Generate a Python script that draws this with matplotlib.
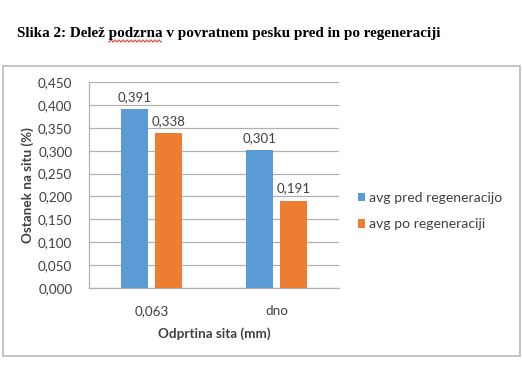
import matplotlib
matplotlib.use("Agg")
import matplotlib.pyplot as plt
import numpy as np
from matplotlib.patches import Rectangle

categories = ["0,063", "dno"]
series_names = ["avg pred regeneracijo", "avg po regeneraciji"]
pred = [0.391, 0.301]
po = [0.338, 0.191]
colors = ["#5B9BD5", "#ED7D31"]
yticks = [0.0, 0.05, 0.10, 0.15, 0.20, 0.25, 0.30, 0.35, 0.40, 0.45]

title = "Slika 2: Delež podzrna v povratnem pesku pred in po regeneraciji"
ylabel = "Ostanek na situ (%)"
xlabel = "Odprtina sita (mm)"

W, H = 522, 392
fig = plt.figure(figsize=(W / 100, H / 100), dpi=100)
fnt = "Lato"
txtc = "#404040"

# chart frame
fig.patches.append(Rectangle((3 / W, 1 - 356 / H), 517 / W, 290 / H,
                             transform=fig.transFigure, fill=False,
                             edgecolor="#BFBFBF", linewidth=1.3))

ax = fig.add_axes([89 / W, 1 - 288 / H, 250 / W, 206 / H])
x = np.arange(len(categories))
bw = 0.213
off = 0.138
b1 = ax.bar(x - off, pred, bw, color=colors[0], label=series_names[0], zorder=3)
b2 = ax.bar(x + off, po, bw, color=colors[1], label=series_names[1], zorder=3)

def fmt(v):
    return f"{v:.3f}".replace(".", ",")

for bars, vals in ((b1, pred), (b2, po)):
    for r, v in zip(bars, vals):
        ax.annotate(fmt(v), (r.get_x() + r.get_width() / 2, v),
                    xytext=(0, 4.5), textcoords="offset points",
                    ha="center", va="bottom", fontsize=9.5, family=fnt,
                    color=txtc)

ax.set_xlim(-0.5, 1.5)
ax.set_ylim(0, 0.45)
ax.set_yticks(yticks)
ax.set_yticklabels([fmt(t) for t in yticks], family=fnt, fontsize=9.7, color=txtc)
ax.set_xticks(x)
ax.set_xticklabels(categories, family=fnt, fontsize=9.7, color=txtc)
ax.tick_params(axis="both", length=0)
ax.tick_params(axis="y", pad=12)
ax.tick_params(axis="x", pad=12)
ax.grid(axis="y", color="#B0B0B0", linewidth=0.9, zorder=0)
for s in ("top", "right"):
    ax.spines[s].set_visible(False)
ax.spines["left"].set_color("#B0B0B0")
ax.spines["bottom"].set_color("#B0B0B0")
ax.spines["left"].set_linewidth(0.9)
ax.spines["bottom"].set_linewidth(0.9)
ax.set_ylabel(ylabel, family=fnt, fontsize=9.7, fontweight="bold", color=txtc,
              labelpad=3)
ax.set_xlabel(xlabel, family=fnt, fontsize=9.7, fontweight="bold", color=txtc,
              labelpad=8)

fig.legend(handles=[b1, b2], labels=series_names, loc="center left",
           bbox_to_anchor=(345 / W, 1 - 211 / H), frameon=False,
           prop={"family": fnt, "size": 10.1}, labelcolor=txtc,
           handlelength=0.55, handleheight=0.6, handletextpad=0.25,
           labelspacing=1.0)

t = fig.text(17 / W, 1 - 33 / H, title, family="Liberation Serif",
             fontweight="bold", fontsize=10.9, va="center", ha="left")

# spell-check squiggle under "podzrna"
fig.canvas.draw()
r = fig.canvas.get_renderer()
pre = fig.text(0, 0, "Slika 2: Delež ", family="Liberation Serif",
               fontweight="bold", fontsize=10.9)
wrd = fig.text(0, 0, "Slika 2: Delež podzrna", family="Liberation Serif",
               fontweight="bold", fontsize=10.9)
x0 = 17 + pre.get_window_extent(r).width
x1 = 17 + wrd.get_window_extent(r).width
pre.remove(); wrd.remove()
xs = np.arange(x0, x1, 1.0)
ys = 41 + 0.9 * np.where((np.arange(len(xs)) // 2) % 2 == 0, 1, -1)
fig.add_artist(plt.Line2D(xs / W, 1 - ys / H, transform=fig.transFigure,
                          color="#E03030", linewidth=0.7))

fig.savefig("out.png", dpi=100)
